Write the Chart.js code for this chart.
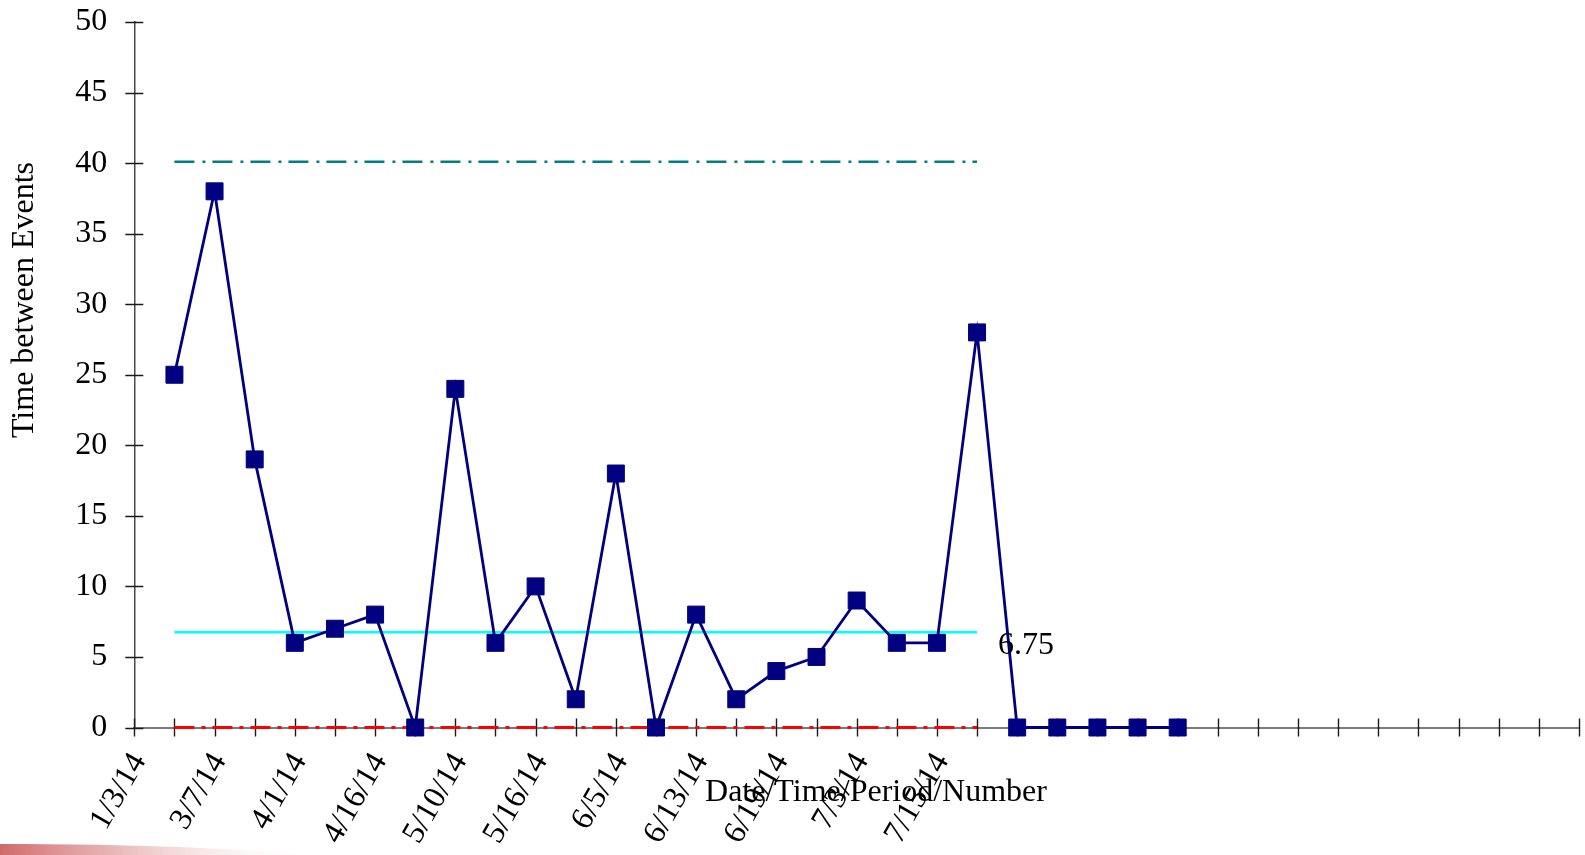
<!DOCTYPE html>
<html>
<head>
<meta charset="utf-8">
<title>Time between Events</title>
<script src="https://cdn.jsdelivr.net/npm/chart.js@4.4.1/dist/chart.umd.min.js"></script>
<style>
  html, body { margin: 0; padding: 0; background: #ffffff; }
  #wrap { position: relative; width: 1585px; height: 855px; }
  canvas { display: block; }
</style>
</head>
<body>
<div id="wrap"><canvas id="chart" width="1585" height="855"></canvas></div>
<script>
// Date labels shown on every second period slot, starting at slot 0
const dateLabels = ['1/3/14', '3/7/14', '4/1/14', '4/16/14', '5/10/14', '5/16/14',
                    '6/5/14', '6/13/14', '6/19/14', '7/3/14', '7/15/14'];
// Time between consecutive events, periods 1..26
const timeBetween = [25, 38, 19, 6, 7, 8, 0, 24, 6, 10, 2, 18, 0, 8, 2, 4, 5, 9, 6, 6, 28, 0, 0, 0, 0, 0];
// Control limits
const upperLimit = 40.1;
const centerLine = 6.75;
const lowerLimit = 0;
// Periods covered by the limit lines (first, last)
const limitSpan = [1, 21];
// Number of period slots on the horizontal axis
const slotCount = 36;
// Vertical axis ticks
const yTickMin = 0, yTickMax = 50, yTickStep = 5;

const serif = "'Liberation Serif', 'Times New Roman', serif";
Chart.defaults.font.family = serif;
Chart.defaults.color = '#000000';

const seriesPoints = timeBetween.map((v, i) => ({ x: i + 1, y: v }));
const limitLine = (v) => [{ x: limitSpan[0], y: v }, { x: limitSpan[1], y: v }];

// Tick marks that cross both axes
const crossTicks = {
  id: 'crossTicks',
  beforeDatasetsDraw(chart) {
    const { ctx, scales: { x, y } } = chart;
    const half = 9;
    ctx.save();
    ctx.strokeStyle = '#1a1a1a';
    ctx.lineWidth = 1.4;
    ctx.beginPath();
    y.ticks.forEach(t => {
      const py = Math.round(y.getPixelForValue(t.value)) + 0.5;
      ctx.moveTo(y.right - half, py);
      ctx.lineTo(y.right + half, py);
    });
    x.ticks.forEach(t => {
      const px = Math.round(x.getPixelForValue(t.value)) + 0.5;
      ctx.moveTo(px, x.top - half);
      ctx.lineTo(px, x.top + half);
    });
    ctx.stroke();
    ctx.restore();
  }
};

// Axis titles, centre-line value and the slide's corner swoosh
const annotations = {
  id: 'annotations',
  beforeDraw(chart) {
    const { ctx } = chart;
    ctx.save();
    const g = ctx.createLinearGradient(0, 0, 320, 0);
    g.addColorStop(0, 'rgba(200, 80, 80, 0.85)');
    g.addColorStop(0.35, 'rgba(215, 120, 120, 0.55)');
    g.addColorStop(1, 'rgba(255, 255, 255, 0)');
    ctx.fillStyle = g;
    ctx.beginPath();
    ctx.moveTo(0, 844);
    ctx.quadraticCurveTo(160, 843, 320, 855);
    ctx.lineTo(0, 855);
    ctx.closePath();
    ctx.fill();
    ctx.restore();
  },
  afterDraw(chart) {
    const { ctx, scales: { x, y } } = chart;
    ctx.save();
    ctx.fillStyle = '#000000';
    ctx.font = '32px ' + serif;

    // vertical axis title
    ctx.save();
    ctx.translate(25, 300);
    ctx.rotate(-Math.PI / 2);
    ctx.textAlign = 'center';
    ctx.textBaseline = 'middle';
    ctx.fillText('Time between Events', 0, 0);
    ctx.restore();

    // horizontal axis title
    ctx.textAlign = 'center';
    ctx.textBaseline = 'alphabetic';
    ctx.fillText('Date/Time/Period/Number', 876, 801);

    // centre-line value
    ctx.textAlign = 'left';
    ctx.fillText(String(centerLine), x.getPixelForValue(limitSpan[1]) + 21, y.getPixelForValue(centerLine) + 22);
    ctx.restore();
  }
};

new Chart(document.getElementById('chart'), {
  type: 'line',
  data: {
    datasets: [
      {
        label: 'Time between Events',
        data: seriesPoints,
        borderColor: '#000080',
        backgroundColor: '#000080',
        borderWidth: 2.8,
        pointStyle: 'rect',
        pointRadius: 12,
        pointHoverRadius: 12,
        pointBorderWidth: 1,
        pointBorderColor: '#000080',
        pointBackgroundColor: '#000080',
        tension: 0,
        clip: false
      },
      {
        label: 'UCL',
        data: limitLine(upperLimit),
        borderColor: '#008080',
        borderWidth: 2.6,
        borderDash: [20, 8, 3, 7],
        pointRadius: 0,
        clip: false
      },
      {
        label: 'CL',
        data: limitLine(centerLine),
        borderColor: '#00ffff',
        borderWidth: 2.6,
        pointRadius: 0,
        clip: false
      },
      {
        label: 'LCL',
        data: limitLine(lowerLimit),
        borderColor: '#ff0000',
        borderWidth: 3,
        borderDash: [20, 7, 4, 7],
        pointRadius: 0,
        clip: false
      }
    ]
  },
  options: {
    responsive: false,
    animation: false,
    devicePixelRatio: 1,
    events: [],
    layout: { autoPadding: false, padding: { left: 0, top: 22, right: 6, bottom: 0 } },
    plugins: {
      legend: { display: false },
      tooltip: { enabled: false },
      title: { display: false }
    },
    scales: {
      x: {
        type: 'linear',
        min: 0,
        max: slotCount,
        grid: { display: false, drawTicks: false },
        border: { display: true, color: '#7a7a7a', width: 2 },
        ticks: {
          stepSize: 1,
          autoSkip: false,
          minRotation: 60,
          maxRotation: 60,
          padding: 19,
          labelOffset: 5,
          font: { size: 32, family: serif },
          color: '#000000',
          callback: (v) => (v % 2 === 0 && dateLabels[v / 2] !== undefined) ? dateLabels[v / 2] : ''
        },
        afterFit(scale) {
          scale.height = 855 - 727.5;
          scale.paddingLeft = 0;
          scale.paddingRight = 0;
        }
      },
      y: {
        min: yTickMin,
        max: yTickMax,
        grid: { display: false, drawTicks: false },
        border: { display: true, color: '#4a4a4a', width: 1.5 },
        ticks: {
          stepSize: yTickStep,
          padding: 27,
          font: { size: 32, family: serif },
          color: '#000000'
        },
        afterFit(scale) {
          scale.width = 134.3;
          scale.paddingTop = 0;
          scale.paddingBottom = 0;
        }
      }
    }
  },
  plugins: [crossTicks, annotations]
});
</script>
</body>
</html>
